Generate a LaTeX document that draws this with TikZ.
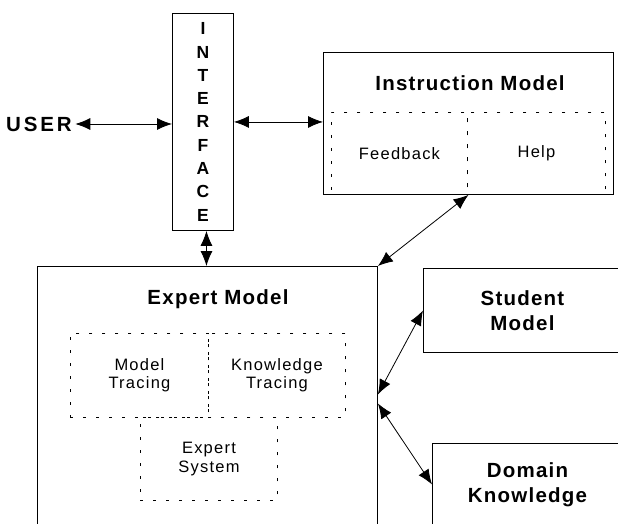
\documentclass[tikz,border=0pt]{standalone}
\usepackage{fontspec}
\setmainfont{Liberation Sans}
\usetikzlibrary{arrows.meta,positioning}

\begin{document}
\begin{tikzpicture}[x=1pt,y=-1pt,
  box/.style={draw,line width=0.9pt,inner sep=0pt,anchor=north west},
  dbox/.style={draw,line width=0.9pt,dash pattern=on 3pt off 10pt,inner sep=0pt,anchor=north west},
  ttl/.style={font=\fontsize{20.5}{25}\selectfont\bfseries\addfontfeature{LetterSpace=6},align=center},
  txt/.style={font=\fontsize{16.5}{18.3}\selectfont\addfontfeature{LetterSpace=7.5},align=center},
  link/.style={{Latex[length=15pt,width=12pt]}-{Latex[length=15pt,width=12pt]},line width=0.8pt}]
\useasboundingbox (0,0) rectangle (618,524);
\clip (0,0) rectangle (618,524);
% user and interface
\node[ttl,font=\fontsize{20.5}{25}\selectfont\bfseries\addfontfeature{LetterSpace=14}] (user) at (39,124) {USER};
\node[box,align=center,font=\fontsize{17.5}{23.3}\selectfont\bfseries,minimum width=61,minimum height=217] (iface) at (172,13) {I\\N\\T\\E\\R\\F\\A\\C\\E};
% instruction model
\node[box,minimum width=290,minimum height=142] (instr) at (323,52) {};
\node[ttl] (ititle) at (470,83) {Instruction Model};
\node[dbox,txt,minimum width=136,minimum height=82] (fb) at (331,112) {Feedback};
\node[dbox,txt,minimum width=138,minimum height=82] (hp) at (467,112) {Help};
% expert model
\node[box,minimum width=340,minimum height=264] (expert) at (37,266) {};
\node[ttl] (etitle) at (218,299) {Expert Model};
\node[dbox,txt,minimum width=138,minimum height=84] (mt) at (70,333) {Model\\Tracing};
\node[dbox,txt,minimum width=137,minimum height=84] (kt) at (208,333) {Knowledge\\Tracing};
\node[dbox,txt,minimum width=137,minimum height=83] (es) at (140,417) {Expert\\System};
% student and domain
\node[box,ttl,minimum width=198,minimum height=84] (student) at (423,268) {Student\\Model};
\node[box,ttl,minimum width=190,minimum height=82] (domain) at (432,443) {Domain\\Knowledge};
% links
\draw[link] (user.east) -- (user.east -| iface.west);
\draw[link] (iface.east) -- (iface.east -| instr.west);
\draw[link] ([xshift=3.5pt]iface.south) -- ([xshift=3.5pt]iface.south |- expert.north);
\draw[link] (instr.south) -- (expert.north east);
\draw[link] ([yshift=4pt]expert.east) -- (student.west);
\draw[link] ([yshift=-5pt]expert.east) -- (domain.west);
\end{tikzpicture}
\end{document}
